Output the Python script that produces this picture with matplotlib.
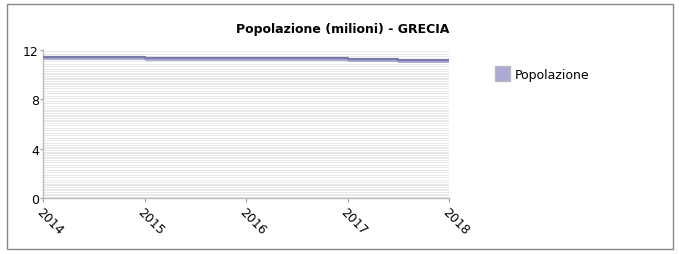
import matplotlib.pyplot as plt
import matplotlib.patches as patches
import numpy as np

# step points (value holds until next x)
years = [2014, 2015, 2017, 2017.5, 2018]
popolazione = [11.48, 11.43, 11.38, 11.27, 11.27]
band = 0.32
tick_years = [2014, 2015, 2016, 2017, 2018]
y_ticks = [0, 4, 8, 12]

fig = plt.figure(figsize=(6.79, 2.55), dpi=100)
fig.patch.set_facecolor('white')

# outer frame
fig.patches.append(patches.Rectangle((7 / 679, 5 / 255), 666 / 679, 245 / 255,
                                     transform=fig.transFigure, fill=False,
                                     edgecolor='#888888', linewidth=1))

ax = fig.add_axes([43 / 679, 56 / 255, 406 / 679, 148 / 255])
ax.set_xlim(2014, 2018)
ax.set_ylim(0, 12)

# striped background
stripe = 0.1
for y0 in np.arange(0, 12, stripe * 2):
    ax.axhspan(y0, y0 + stripe, color='#e9e9e9', linewidth=0, zorder=0)

vals = np.array(popolazione)
ax.fill_between(years, vals - band, vals, step='post', color='#aaaad4',
                linewidth=0, zorder=2)
ax.step(years, vals - 0.08, where='post', color='#7a7aaa', linewidth=1.6, zorder=3)

for s in ['top', 'right']:
    ax.spines[s].set_visible(False)
for s in ['left', 'bottom']:
    ax.spines[s].set_color('#bbbbbb')
    ax.spines[s].set_linewidth(1)

ax.set_yticks(y_ticks)
ax.set_xticks(tick_years)
ax.set_xticklabels([str(y) for y in tick_years], rotation=-45, ha='left',
                   va='top', rotation_mode='anchor', fontsize=9)
ax.tick_params(axis='y', labelsize=9, length=2, color='#999999', pad=1)
ax.tick_params(axis='x', length=3, color='#999999', pad=2)

fig.text(343 / 679, 1 - 29 / 255, 'Popolazione (milioni) - GRECIA',
         ha='center', va='center', fontsize=9, fontweight='bold')

# legend
fig.patches.append(patches.Rectangle((495 / 679, 1 - 82 / 255), 15 / 679, 15 / 255,
                                     transform=fig.transFigure, facecolor='#aaaad4',
                                     edgecolor='#bbbbbb', linewidth=1))
fig.text(515 / 679, 1 - 75 / 255, 'Popolazione', ha='left', va='center', fontsize=9)

fig.savefig('out.png', dpi=100, facecolor='white')
